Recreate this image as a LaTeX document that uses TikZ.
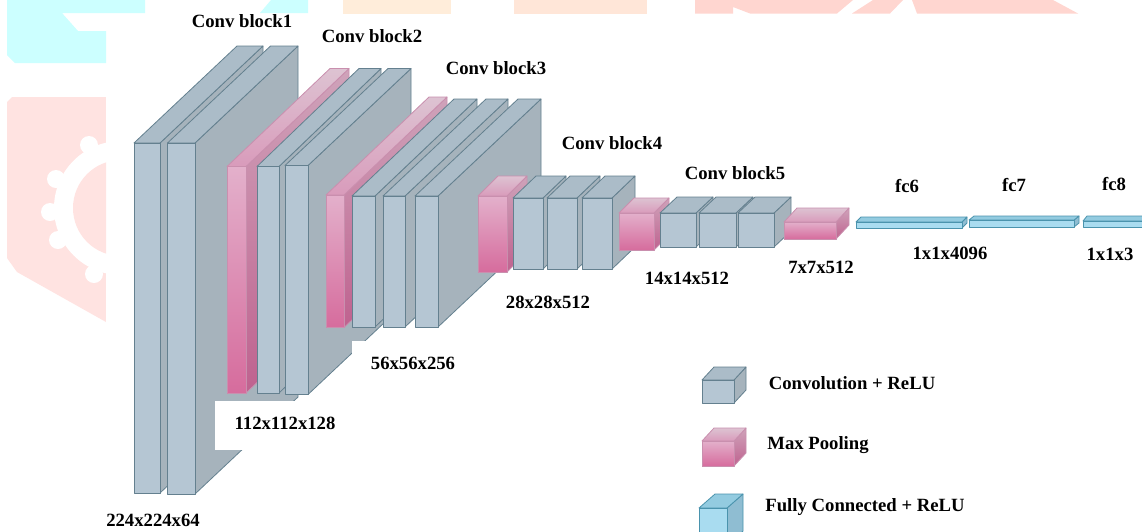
\documentclass[tikz,border=0pt]{standalone}
\usepackage{fontspec}
\setmainfont{Liberation Serif}
\usetikzlibrary{positioning}

\tikzset{
  lab/.style={inner sep=0pt,font=\bfseries\fontsize{18.7}{20}\selectfont},
  edge/.style={line width=0.8pt,line join=round},
  convfront/.style={edge,draw=convline,fill=convf},
  convtop/.style={edge,draw=convline,fill=convt},
  convside/.style={edge,draw=convline,fill=convs},
  poolfront/.style={edge,draw=poolline,top color=poolfa,bottom color=poolfb},
  pooltop/.style={edge,draw=poolline,top color=pooltb,bottom color=poolta},
  poolside/.style={edge,draw=poolline,top color=poolsa,bottom color=poolsb},
  fcfront/.style={edge,draw=fcline,fill=fcf},
  fctop/.style={edge,draw=fcline,fill=fct},
  fcside/.style={edge,draw=fcline,fill=fcs},
}
\definecolor{convline}{HTML}{64808F}
\definecolor{convf}{HTML}{B5C6D3}
\definecolor{convt}{HTML}{ABBCC8}
\definecolor{convs}{HTML}{A6B3BC}
\definecolor{poolline}{HTML}{C98FAE}
\definecolor{poolfa}{HTML}{E3B0CB}
\definecolor{poolfb}{HTML}{D66C9D}
\definecolor{poolta}{HTML}{D99BBB}
\definecolor{pooltb}{HTML}{DDC3D2}
\definecolor{poolsa}{HTML}{CFA3BA}
\definecolor{poolsb}{HTML}{BF628F}
\definecolor{fcline}{HTML}{4A93AD}
\definecolor{fcf}{HTML}{A9DCF0}
\definecolor{fct}{HTML}{93CBE0}
\definecolor{fcs}{HTML}{8FBDD2}
\definecolor{markcyan}{HTML}{CCFFFF}
\definecolor{markpeach}{HTML}{FFEDDA}
\definecolor{markorange}{HTML}{FFE6D8}
\definecolor{markrose}{HTML}{FFD6D0}
\definecolor{markpink}{HTML}{FFE3E1}

% kind, front x1 y1 x2 y2, depth dx dy
\newcommand{\cuboid}[7]{
  \path[#1side] (#4,#3) -- ++(#6,-#7) -- (#4+#6,#5-#7) -- (#4,#5) -- cycle;
  \path[#1top] (#2,#3) -- ++(#6,-#7) -- (#4+#6,#3-#7) -- (#4,#3) -- cycle;
  \path[#1front] (#2,#3) rectangle (#4,#5);
}

\begin{document}
\begin{tikzpicture}[x=1pt,y=-1pt]
  \useasboundingbox (0,0) rectangle (1142,531);
  \clip (0,0) rectangle (1142,531);
  \fill[white] (0,0) rectangle (1142,531);

  % watermark
  \fill[markcyan] (7,0) -- (145,0) -- (145,13) -- (62,13) -- (78,31) -- (106,31) -- (106,63) -- (15,63) -- (7,55) -- cycle;
  \fill[markcyan] (260,13) -- (271,0) -- (308,0) -- (308,13) -- cycle;
  \fill[markpeach] (343,0) rectangle (451,13.5);
  \fill[markorange] (514,0) rectangle (647,13.5);
  \fill[markrose] (695,0) -- (853,0) -- (837,13.5) -- (750,13.5) -- (733,7) -- (733,13.5) -- (695,13.5) -- cycle;
  \fill[markrose] (852,13.5) -- (873,0) -- (903,0) -- (890,13.5) -- cycle;
  \fill[markrose] (912,0) -- (1053,0) -- (1078,13.5) -- (917,13.5) -- cycle;
  \begin{scope}
    \clip (12,97) -- (106,97) -- (106,322) -- (17,272) -- (7,258) -- (7,102) -- cycle;
    \fill[markpink] (0,90) rectangle (106,330);
    \fill[white] (121,208) circle (67);
    \foreach \tx/\ty in {89/145,56/179,50/212,58/240,94/274}
      \fill[white] (\tx,\ty) circle (9);
    \fill[markpink] (121,208) circle (48);
  \end{scope}

  % block 1
  \cuboid{conv}{134}{143}{160}{493}{103}{97}
  \cuboid{conv}{167.5}{143}{195}{494}{103}{97}
  \fill[white] (215,401) rectangle (360,450);
  % block 2
  \cuboid{pool}{227}{166.5}{246}{393}{103}{98}
  \cuboid{conv}{257}{166.5}{279}{393}{102}{98}
  \cuboid{conv}{285}{165.5}{308}{394.5}{103}{97}
  \fill[white] (352,340.5) rectangle (430,354);
  % block 3
  \cuboid{pool}{326}{195}{344}{327.5}{103}{98}
  \cuboid{conv}{352}{196}{375}{327}{102}{97}
  \cuboid{conv}{383}{196}{405}{327}{103}{97}
  \cuboid{conv}{415}{196}{438}{327}{103}{97}
  % block 4
  \cuboid{pool}{478}{196}{507}{272}{20}{20}
  \cuboid{conv}{513}{198}{543}{269}{23}{22}
  \cuboid{conv}{547}{198}{577}{269}{23}{22}
  \cuboid{conv}{582}{198}{612}{269}{23}{22}
  % block 5
  \cuboid{pool}{619}{213}{654}{250}{15}{15}
  \cuboid{conv}{660}{213}{696}{247}{17}{16}
  \cuboid{conv}{699}{213}{736}{247}{17}{16}
  \cuboid{conv}{738}{213}{774}{247}{17}{16}
  \cuboid{pool}{784}{222}{836}{239}{13}{14}
  % fully connected
  \cuboid{fc}{856}{222}{962}{228}{5}{5}
  \cuboid{fc}{969}{220}{1074}{227}{5}{4}
  \cuboid{fc}{1083}{221}{1160}{227}{4}{5}
  % legend
  \cuboid{conv}{702}{380}{734}{403}{12}{13}
  \cuboid{pool}{702}{441}{734}{466}{12}{13}
  \cuboid{fc}{699}{508}{727}{545}{16}{14}

  \node[lab] (block1) at (242,21) {Conv block1};
  \node[lab] (block2) at (372,36) {Conv block2};
  \node[lab] (block3) at (496,68) {Conv block3};
  \node[lab] (block4) at (612,143) {Conv block4};
  \node[lab] (block5) at (735,173) {Conv block5};
  \node[lab] (fcsix) at (907,186) {fc6};
  \node[lab] (fcseven) at (1014,185) {fc7};
  \node[lab] (fceight) at (1114,184) {fc8};
  \node[lab] (size1) at (153,520) {224x224x64};
  \node[lab] (size2) at (285,423) {112x112x128};
  \node[lab] (size3) at (413,363) {56x56x256};
  \node[lab] (size4) at (548,302) {28x28x512};
  \node[lab] (size5) at (687,278) {14x14x512};
  \node[lab] (size6) at (821,267) {7x7x512};
  \node[lab] (size7) at (950,253) {1x1x4096};
  \node[lab] (size8) at (1110,254) {1x1x3};
  \node[lab] (legconv) at (852,383) {Convolution + ReLU};
  \node[lab] (legpool) at (818,445) {Max Pooling};
  \node[lab] (legfc) at (865,507) {Fully Connected + ReLU};
\end{tikzpicture}
\end{document}
